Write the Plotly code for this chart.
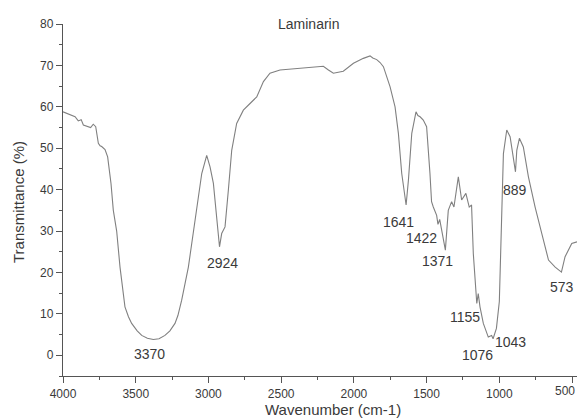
import plotly.graph_objects as go

# Wavenumber (cm-1) and transmittance (%)
wavenumber = [4000, 3960, 3917, 3895, 3875, 3860, 3840, 3826, 3810, 3792, 3775, 3757, 3745, 3734,
              3711, 3693, 3670, 3654, 3631, 3608, 3574, 3550, 3528, 3490, 3459, 3420, 3379,
              3340, 3299, 3265, 3230, 3210, 3184, 3138, 3104, 3081, 3046, 3012, 2989, 2966,
              2943, 2924, 2909, 2886, 2863, 2840, 2806, 2760, 2714, 2668, 2622, 2577, 2508,
              2370, 2210, 2175, 2141, 2073, 2003, 1935, 1889, 1870, 1843, 1820, 1797, 1751,
              1717, 1694, 1671, 1641, 1625, 1602, 1573, 1560, 1545, 1523, 1500, 1477, 1466,
              1454, 1431, 1422, 1410, 1371, 1351, 1328, 1312, 1282, 1259, 1230, 1207, 1191,
              1179, 1155, 1145, 1133, 1110, 1076, 1053, 1043, 1020, 1000, 990, 980, 972,
              949, 926, 889, 880, 862, 835, 800, 754, 708, 662, 616, 573, 548, 502, 466]
transmittance = [58.8, 58.2, 57.6, 56.6, 56.9, 55.6, 55.4, 55.2, 55.0, 55.8, 55.2, 51.2, 50.6, 50.4,
                 49.7, 47.9, 41.5, 35.0, 30.0, 21.3, 11.7, 9.3, 7.7, 5.9, 4.8, 4.1, 3.8,
                 4.0, 4.8, 5.9, 7.7, 9.6, 13.3, 21.3, 29.4, 35.8, 43.9, 48.3, 45.5, 41.5,
                 32.6, 26.2, 29.4, 31.0, 39.9, 49.5, 56.0, 59.2, 60.8, 62.4, 66.1, 68.1, 68.9,
                 69.3, 69.8, 68.9, 68.1, 68.6, 70.5, 71.7, 72.3, 71.8, 71.4, 70.7, 69.7, 64.8,
                 60.0, 53.6, 43.9, 36.3, 42.3, 53.6, 58.8, 57.9, 57.6, 56.8, 55.2, 43.9, 37.1,
                 35.8, 33.8, 31.6, 32.8, 25.4, 35.0, 37.1, 35.8, 43.1, 37.5, 39.1, 35.8, 36.3,
                 24.6, 12.5, 14.9, 11.7, 7.7, 4.4, 4.8, 4.0, 6.5, 13.0, 28.0, 40.0, 48.7,
                 54.4, 52.8, 44.3, 49.5, 52.4, 50.3, 43.1, 35.8, 29.4, 23.0, 21.3, 20.1, 23.8, 27.0, 27.4]

peak_labels = ["3370", "2924", "1641", "1422", "1371", "1155", "1076", "1043", "889", "573"]
label_x = [3402, 2902, 1694, 1534, 1426, 1236, 1151, 921, 892, 568]
label_y = [0.2, 22.3, 32.2, 28.4, 22.8, 9.3, 0.0, 3.2, 39.9, 16.5]

x_ticks = [4000, 3500, 3000, 2500, 2000, 1500, 1000]
x_last_tick = "500"
y_ticks = [0, 10, 20, 30, 40, 50, 60, 70, 80]

FONT = "Liberation Sans, Arial, sans-serif"
TXT = "#3a3a3a"
AX = "#555555"

fig = go.Figure()
fig.add_trace(go.Scatter(x=wavenumber, y=transmittance, mode="lines",
                         line=dict(color="#808080", width=1.1), hoverinfo="skip"))

for t, x, y in zip(peak_labels, label_x, label_y):
    fig.add_annotation(x=x, y=y, text=t, showarrow=False, xref="x", yref="y",
                       font=dict(family=FONT, size=14, color=TXT))

# last x tick label sits at the right edge of the picture; kept fully inside
fig.add_annotation(text=x_last_tick, x=1, y=0, xref="paper", yref="paper",
                   xanchor="right", yanchor="middle", yshift=-15, showarrow=False,
                   font=dict(family=FONT, size=12, color=TXT))

# chart title and axis titles
fig.add_annotation(text="Laminarin", x=0.477, y=1, xref="paper", yref="paper",
                   yanchor="middle", yshift=0, showarrow=False,
                   font=dict(family=FONT, size=14, color=TXT))
fig.add_annotation(text="Wavenumber (cm-1)", x=0.525, y=0, xref="paper", yref="paper",
                   yanchor="middle", yshift=-33, showarrow=False,
                   font=dict(family=FONT, size=15, color=TXT))
fig.add_annotation(text="Transmittance (%)", x=0, y=0.5, xref="paper", yref="paper",
                   xanchor="center", yanchor="middle", xshift=-45, yshift=-2, textangle=-90,
                   showarrow=False, font=dict(family=FONT, size=15, color=TXT))

fig.update_layout(
    width=577, height=418,
    margin=dict(l=63, r=0, t=24, b=42),
    plot_bgcolor="white", paper_bgcolor="white",
    showlegend=False,
    font=dict(family=FONT, color=TXT),
)
fig.update_xaxes(range=[4000, 466], tickvals=x_ticks + [500], ticktext=[str(v) for v in x_ticks] + [""],
                 ticks="outside", ticklen=6,
                 tickcolor=AX, showline=True, linecolor=AX, linewidth=1.3,
                 showgrid=False, zeroline=False, tickfont=dict(size=12, color=TXT),
                 automargin=False,
                 minor=dict(tickvals=[3750, 3250, 2750, 2250, 1750, 1250, 750],
                            ticks="outside", ticklen=3, tickcolor=AX))
fig.update_yaxes(range=[-5, 80], tickvals=y_ticks, ticks="outside", ticklen=6,
                 tickcolor=AX, showline=True, linecolor=AX, linewidth=1.3,
                 showgrid=False, zeroline=False, tickfont=dict(size=12, color=TXT),
                 automargin=False,
                 minor=dict(dtick=5, tick0=0, ticks="outside", ticklen=3, tickcolor=AX))

fig.write_html("out.html", config={"displayModeBar": False},
               post_script="document.body.style.margin='0';document.body.style.overflow='hidden';")
